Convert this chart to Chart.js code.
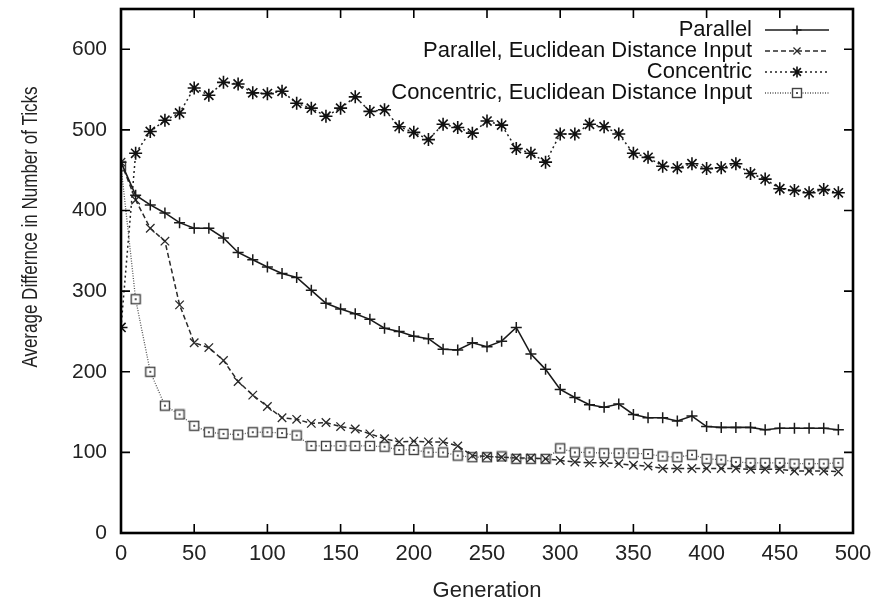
<!DOCTYPE html>
<html><head><meta charset="utf-8">
<script src="https://cdn.jsdelivr.net/npm/chart.js@4/dist/chart.umd.min.js"></script>
<style>html,body{margin:0;padding:0;background:#fff;}#wrap{width:888px;height:603px;}</style>
</head><body><div id="wrap"><canvas id="c" width="888" height="603"></canvas></div>
<script>
const generations = [0,10,20,30,40,50,60,70,80,90,100,110,120,130,140,150,160,170,180,190,200,210,220,230,240,250,260,270,280,290,300,310,320,330,340,350,360,370,380,390,400,410,420,430,440,450,460,470,480,490];
const seriesNames = ['Parallel','Parallel, Euclidean Distance Input','Concentric','Concentric, Euclidean Distance Input'];
const parallel = [460,419,407,397,385,378,378,366,348,339,330,322,317,301,285,278,272,265,254,250,244,241,228,227,236,231,238,255,222,203,178,168,159,156,160,147,143,143,139,145,132,131,131,131,128,130,130,130,130,128];
const parallelEuclid = [460,413,378,362,283,236,230,214,188,171,157,143,141,136,137,132,129,123,117,113,114,113,113,108,96,95,94,93,93,92,90,88,87,87,86,84,83,80,80,80,80,80,80,79,79,79,77,77,77,76];
const concentric = [255,471,498,512,521,552,543,559,557,546,545,548,533,527,517,527,541,523,525,504,497,488,507,503,496,511,506,477,471,460,495,495,507,504,495,471,466,455,453,458,452,453,458,446,439,427,425,422,426,422];
const concentricEuclid = [455,290,200,158,147,133,125,123,122,125,125,124,121,108,108,108,108,108,107,103,103,100,100,96,94,94,95,92,92,92,105,100,100,99,99,99,98,95,94,97,92,91,88,87,87,87,86,86,86,87];
const xTicks = [0,50,100,150,200,250,300,350,400,450,500];
const yTicks = [0,100,200,300,400,500,600];
const xTitle = 'Generation';
const yTitle = 'Average Differnce in Number of Ticks';

const FONT = '"Liberation Sans", Arial, Helvetica, sans-serif';

// hollow square with centre dot marker
function squareMarker(){
  const cv = document.createElement('canvas');
  cv.width = 12; cv.height = 12;
  const g = cv.getContext('2d');
  g.fillStyle = '#fff';
  g.fillRect(1,1,10,10);
  g.strokeStyle = '#444';
  g.lineWidth = 1.4;
  g.strokeRect(1.5,1.5,9,9);
  g.fillStyle = '#555';
  g.fillRect(5,5,2,2);
  return cv;
}
const sq = squareMarker();

function pts(arr){ return arr.map((v,i)=>({x:generations[i], y:v})); }

const datasets = [
  {label: seriesNames[0], data: pts(parallel), borderColor:'#1a1a1a', borderWidth:1.6, pointStyle:'cross', pointRadius:5.5, pointBorderWidth:1.5, pointBorderColor:'#1a1a1a', pointBackgroundColor:'transparent', borderDash:[]},
  {label: seriesNames[1], data: pts(parallelEuclid), borderColor:'#2a2a2a', borderWidth:1.5, pointStyle:'crossRot', pointRadius:6, pointBorderWidth:1.3, pointBorderColor:'#2a2a2a', pointBackgroundColor:'transparent', borderDash:[5,3]},
  {label: seriesNames[2], data: pts(concentric), borderColor:'#222', borderWidth:1.5, pointStyle:'star', pointRadius:6.5, pointBorderWidth:1.6, pointBorderColor:'#111', pointBackgroundColor:'transparent', borderDash:[2,3]},
  {label: seriesNames[3], data: pts(concentricEuclid), borderColor:'#555', borderWidth:1.3, pointStyle:sq, pointRadius:6, pointBorderWidth:1, pointBorderColor:'#444', pointBackgroundColor:'#fff', borderDash:[1,1.5]}
];
datasets.forEach(d=>{ d.fill=false; d.tension=0; d.pointHoverRadius=d.pointRadius; });

const framePlugin = {
  id:'frame',
  afterDraw(chart){
    const {ctx, chartArea:a, scales:{x, y}} = chart;
    ctx.save();
    ctx.strokeStyle = '#000';
    ctx.lineWidth = 1.6;
    ctx.beginPath();
    const tl = 9;
    xTicks.forEach(v=>{ const px = x.getPixelForValue(v); ctx.moveTo(px, a.bottom); ctx.lineTo(px, a.bottom - tl); ctx.moveTo(px, a.top); ctx.lineTo(px, a.top + tl); });
    yTicks.forEach(v=>{ const py = y.getPixelForValue(v); ctx.moveTo(a.left, py); ctx.lineTo(a.left + tl, py); ctx.moveTo(a.right, py); ctx.lineTo(a.right - tl, py); });
    ctx.stroke();
    ctx.lineWidth = 2.6;
    ctx.strokeRect(a.left, a.top, a.right - a.left, a.bottom - a.top);
    ctx.restore();
  }
};

const legendPlugin = {
  id:'gpLegend',
  afterDraw(chart){
    const ctx = chart.ctx;
    const textRight = 752, lineL = 765, lineR = 829, mark = 797;
    ctx.save();
    chart.data.datasets.forEach((d, i)=>{
      const yy = 30 + i*21;
      ctx.font = '22px ' + FONT;
      ctx.fillStyle = '#111';
      ctx.textAlign = 'right';
      ctx.textBaseline = 'middle';
      ctx.fillText(d.label, textRight, yy);
      ctx.strokeStyle = d.borderColor;
      ctx.lineWidth = Math.min(d.borderWidth, 1.3);
      ctx.setLineDash(d.borderDash || []);
      ctx.beginPath(); ctx.moveTo(lineL, yy); ctx.lineTo(lineR, yy); ctx.stroke();
      ctx.setLineDash([]);
      ctx.strokeStyle = d.pointBorderColor;
      ctx.fillStyle = d.pointBackgroundColor;
      ctx.lineWidth = d.pointBorderWidth;
      Chart.helpers.drawPoint(ctx, {pointStyle: d.pointStyle, radius: d.pointRadius - 1, rotation: 0, borderWidth: d.pointBorderWidth}, mark, yy);
    });
    ctx.restore();
  }
};

const yTitlePlugin = {
  id:'yTitle',
  afterDraw(chart){
    const ctx = chart.ctx;
    ctx.save();
    ctx.translate(31, 227);
    ctx.rotate(-Math.PI/2);
    ctx.scale(1, 1.3);
    ctx.font = '17px ' + FONT;
    ctx.fillStyle = '#222';
    ctx.textAlign = 'center';
    ctx.textBaseline = 'middle';
    ctx.fillText(yTitle, 0, 0);
    ctx.restore();
  }
};

function noPad(s){ s.paddingTop = 0; s.paddingBottom = 0; s.paddingLeft = 0; s.paddingRight = 0; }

new Chart(document.getElementById('c'), {
  type:'line',
  data:{datasets},
  options:{
    responsive:false,
    devicePixelRatio:1,
    animation:false,
    layout:{padding:{top:9, right:35, bottom:0, left:0}},
    plugins:{legend:{display:false}, tooltip:{enabled:false}},
    scales:{
      x:{
        type:'linear', min:0, max:500,
        afterBuildTicks(s){ s.ticks = xTicks.map(v=>({value:v})); },
        afterFit(s){ s.height = 70; noPad(s); },
        grid:{display:false, drawTicks:false},
        border:{display:false},
        ticks:{font:{family:FONT, size:22}, color:'#222', padding:8, maxRotation:0, autoSkip:false},
        title:{display:true, text:xTitle, font:{family:FONT, size:22, lineHeight:1.1}, color:'#222', padding:{top:0,bottom:0}}
      },
      y:{
        type:'linear', min:0, max:650,
        afterBuildTicks(s){ s.ticks = yTicks.map(v=>({value:v})); },
        afterFit(s){ s.width = 121; noPad(s); },
        grid:{display:false, drawTicks:false},
        border:{display:false},
        ticks:{font:{family:FONT, size:21}, color:'#222', padding:14, autoSkip:false},
        title:{display:false}
      }
    }
  },
  plugins:[framePlugin, legendPlugin, yTitlePlugin]
});
</script>
</body></html>
